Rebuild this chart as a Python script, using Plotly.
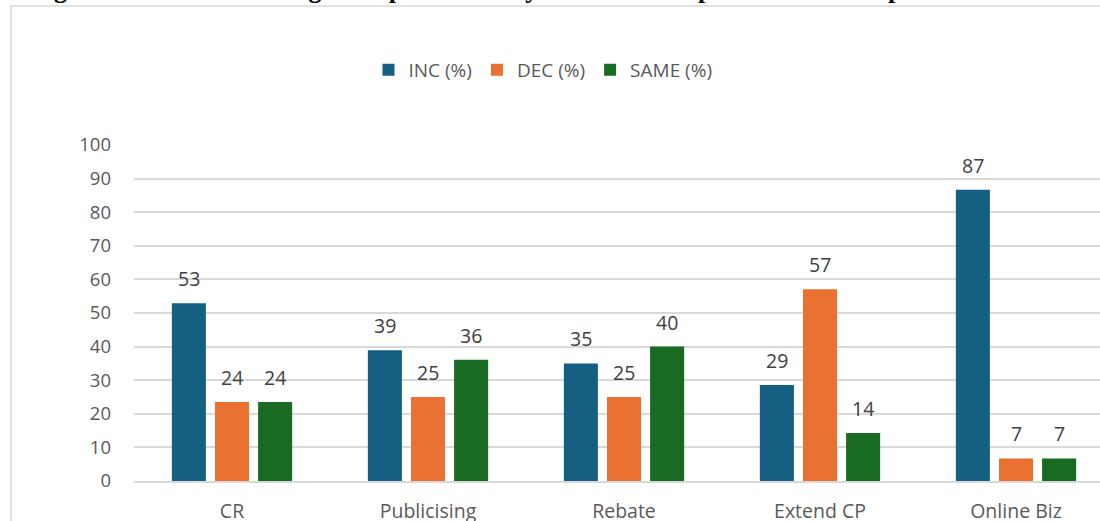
import plotly.graph_objects as go

categories = ["CR", "Publicising", "Rebate", "Extend CP", "Online Biz"]
inc = [52.9, 38.9, 35.0, 28.6, 86.7]
dec = [23.5, 25.0, 25.0, 57.1, 6.7]
same = [23.5, 36.1, 40.0, 14.3, 6.7]
series_names = ["INC (%)", "DEC (%)", "SAME (%)"]
colors = ["#156082", "#E97132", "#196B24"]
y_ticks = list(range(0, 101, 10))
title_text = "Figure 4: Business Strategies Implemented by SMEs and Impact on Business performance"

W, H = 1100, 521
ML, MR, MT, MB = 134, 0, 145, 40
CAT_PX = 196  # pixel width of one category band in the reference
BARGAP = 0.34
BARGROUPGAP = 0.21
plot_h = H - MT - MB
plot_w = W - ML - MR

fig = go.Figure()
all_series = [inc, dec, same]
for name, vals, col in zip(series_names, all_series, colors):
    fig.add_trace(go.Bar(
        x=categories, y=vals, name=name,
        marker=dict(color=col, line=dict(width=0)),
        hoverinfo="x+y+name",
    ))

# data labels above bars
slot = (1 - BARGAP) / len(all_series)
annotations = []
for k, vals in enumerate(all_series):
    for i, v in enumerate(vals):
        annotations.append(dict(
            x=i + (k - (len(all_series) - 1) / 2) * slot,
            y=v, xref="x", yref="y",
            text=f"{v:.0f}", showarrow=False,
            yanchor="bottom", xanchor="center", yshift=9,
            font=dict(family="Open Sans", size=19.5, color="#404040"),
        ))

# figure caption, mostly cut off at the top of the page as in the reference
annotations.append(dict(
    x=(30 - ML) / plot_w, y=1, xref="paper", yref="paper",
    xanchor="left", yanchor="bottom", yshift=MT - 5,
    text=f"<b>{title_text}</b>", showarrow=False, borderpad=0,
    font=dict(family="Liberation Serif", size=26, color="#000000"),
))

fig.update_layout(
    width=W, height=H,
    margin=dict(l=ML, r=MR, t=MT, b=MB, pad=0, autoexpand=False),
    paper_bgcolor="white", plot_bgcolor="white",
    barmode="group", bargap=BARGAP, bargroupgap=BARGROUPGAP,
    font=dict(family="Open Sans", color="#595959"),
    showlegend=True,
    legend=dict(
        orientation="h", x=(543 - ML) / plot_w, xanchor="center",
        y=1 + (MT - 70) / plot_h, yanchor="middle",
        font=dict(family="Open Sans", size=19, color="#595959"),
        bgcolor="rgba(0,0,0,0)",
    ),
    annotations=annotations,
    shapes=[dict(
        type="rect", xref="paper", yref="paper", layer="below",
        x0=(11 - ML) / plot_w, x1=1.2,
        y0=-0.5, y1=1 + (MT - 6) / plot_h,
        line=dict(color="#D9D9D9", width=1.5), fillcolor="rgba(0,0,0,0)",
    )],
    xaxis=dict(
        range=[-0.5, -0.5 + plot_w / CAT_PX],
        showgrid=False, showline=True, linecolor="#D9D9D9", linewidth=1.5,
        ticks="", tickfont=dict(family="Open Sans", size=19.5, color="#595959"),
        ticklabelstandoff=12, fixedrange=True, automargin=False,
    ),
    yaxis=dict(
        range=[0, 100], tickvals=y_ticks, showgrid=True,
        gridcolor="#D9D9D9", gridwidth=1.5, zeroline=False, showline=False,
        ticks="", tickfont=dict(family="Open Sans", size=18.5, color="#595959"),
        ticklabelstandoff=22, fixedrange=True, automargin=False,
    ),
)

fig.write_html("out.html", config={"displayModeBar": False})
